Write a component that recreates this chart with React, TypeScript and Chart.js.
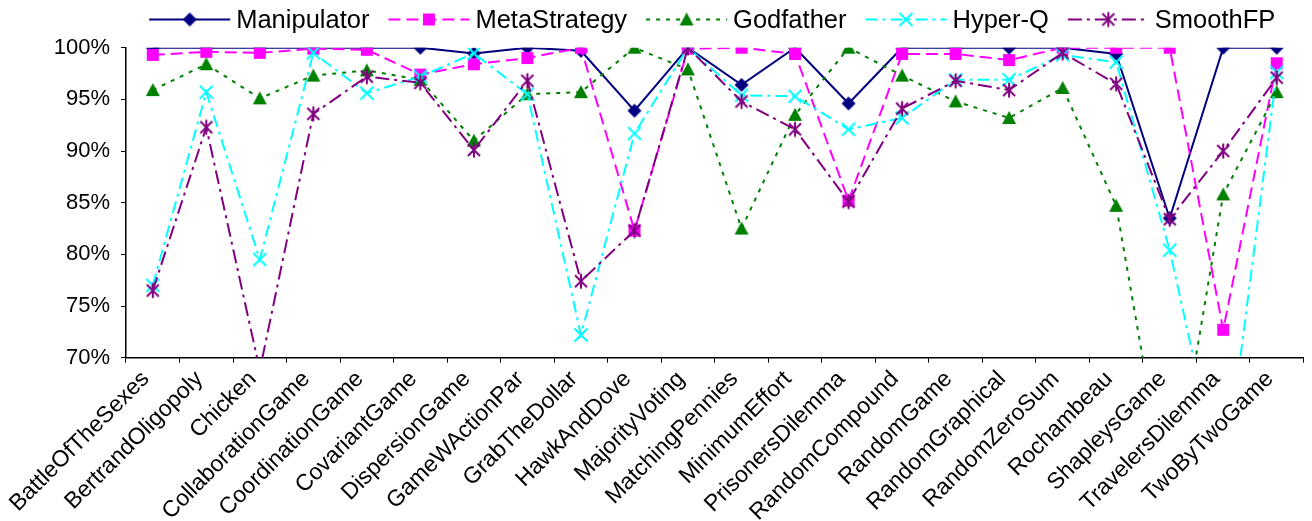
import { useEffect, useRef } from 'react';
import { Chart, registerables } from 'chart.js';

Chart.register(...registerables);

const categories = [
  'BattleOfTheSexes', 'BertrandOligopoly', 'Chicken', 'CollaborationGame', 'CoordinationGame',
  'CovariantGame', 'DispersionGame', 'GameWActionPar', 'GrabTheDollar', 'HawkAndDove',
  'MajorityVoting', 'MatchingPennies', 'MinimumEffort', 'PrisonersDilemma', 'RandomCompound',
  'RandomGame', 'RandomGraphical', 'RandomZeroSum', 'Rochambeau', 'ShapleysGame',
  'TravelersDilemma', 'TwoByTwoGame',
];

const manipulator = [100, 100, 100, 100, 100, 100, 99.45, 100, 99.7, 93.9, 100, 96.4, 100, 94.6, 100, 100, 100, 100, 99.4, 83.5, 100, 100];
const metaStrategy = [99.3, 99.6, 99.5, 99.9, 99.8, 97.4, 98.4, 99.0, 100, 82.3, 99.9, 100, 99.4, 85.2, 99.4, 99.4, 98.8, 100, 100, 100, 72.7, 98.5];
const godfather = [95.9, 98.4, 95.1, 97.3, 97.8, 96.9, 91.0, 95.5, 95.7, 100, 97.9, 82.5, 93.5, 100, 97.3, 94.8, 93.2, 96.1, 84.7, 55, 85.8, 95.7];
const hyperQ = [77.0, 95.7, 79.5, 99.5, 95.6, 97.2, 99.45, 95.5, 72.2, 91.7, 100, 95.4, 95.3, 92.1, 93.2, 96.9, 96.9, 99.3, 98.6, 80.4, 57, 97.6];
const smoothFP = [76.5, 92.3, 68.8, 93.6, 97.2, 96.6, 90.1, 96.8, 77.4, 82.3, 100, 94.8, 92.1, 85.1, 94.1, 96.8, 95.9, 99.5, 96.5, 83.4, 90.0, 97.1];

const seriesNames = ['Manipulator', 'MetaStrategy', 'Godfather', 'Hyper-Q', 'SmoothFP'];
const yMin = 70;
const yMax = 100;
const yStep = 5;

const FONT = '"Liberation Sans", Arial, Helvetica, sans-serif';

function makeMarker(kind: string, color: string): HTMLCanvasElement {
  const c = document.createElement('canvas');
  c.width = 18;
  c.height = 18;
  const g = c.getContext('2d')!;
  g.fillStyle = color;
  g.strokeStyle = color;
  g.lineWidth = 2;
  g.lineCap = 'butt';
  const m = 9;
  if (kind === 'diamond') {
    g.beginPath();
    g.moveTo(m, m - 7);
    g.lineTo(m + 7, m);
    g.lineTo(m, m + 7);
    g.lineTo(m - 7, m);
    g.closePath();
    g.fill();
  } else if (kind === 'square') {
    g.fillRect(m - 6, m - 6, 12, 12);
  } else if (kind === 'triangle') {
    g.beginPath();
    g.moveTo(m, m - 7);
    g.lineTo(m + 7, m + 6);
    g.lineTo(m - 7, m + 6);
    g.closePath();
    g.fill();
  } else if (kind === 'x') {
    g.beginPath();
    g.moveTo(m - 6.5, m - 6.5);
    g.lineTo(m + 6.5, m + 6.5);
    g.moveTo(m + 6.5, m - 6.5);
    g.lineTo(m - 6.5, m + 6.5);
    g.stroke();
  } else if (kind === 'star') {
    g.beginPath();
    g.moveTo(m - 6, m - 6);
    g.lineTo(m + 6, m + 6);
    g.moveTo(m + 6, m - 6);
    g.lineTo(m - 6, m + 6);
    g.moveTo(m, m - 7.5);
    g.lineTo(m, m + 7.5);
    g.stroke();
  }
  return c;
}

const legendPlugin = {
  id: 'excelLegend',
  afterDraw(chart: any) {
    const ctx: CanvasRenderingContext2D = chart.ctx;
    ctx.save();
    ctx.font = `25.5px ${FONT}`;
    const lineW = 81;
    const gapText = 6;
    const gapItem = 19;
    const dss = chart.data.datasets;
    const widths = dss.map((ds: any) => ctx.measureText(ds.label).width);
    let total = 0;
    widths.forEach((w: number) => (total += lineW + gapText + w));
    total += gapItem * (dss.length - 1);
    const ca = chart.chartArea;
    let x = (ca.left + ca.right) / 2 - 2.5 - total / 2;
    const y = 19.5;
    dss.forEach((ds: any, i: number) => {
      ctx.strokeStyle = ds.borderColor;
      ctx.lineWidth = ds.borderWidth;
      ctx.setLineDash(ds.borderDash || []);
      ctx.beginPath();
      ctx.moveTo(x, y);
      ctx.lineTo(x + lineW, y);
      ctx.stroke();
      ctx.setLineDash([]);
      const img = ds.pointStyle as HTMLCanvasElement;
      ctx.drawImage(img, x + lineW / 2 - img.width / 2, y - img.height / 2);
      ctx.fillStyle = '#000';
      ctx.textBaseline = 'alphabetic';
      ctx.textAlign = 'left';
      ctx.fillText(ds.label, x + lineW + gapText, 27.5);
      x += lineW + gapText + widths[i] + gapItem;
    });
    ctx.restore();
  },
};

export default function App() {
  const ref = useRef<HTMLCanvasElement>(null);

  useEffect(() => {
    const styles = [
      { data: manipulator, color: '#000080', dash: [] as number[], marker: 'diamond' },
      { data: metaStrategy, color: '#FF00FF', dash: [12, 6], marker: 'square' },
      { data: godfather, color: '#008000', dash: [4, 6], marker: 'triangle' },
      { data: hyperQ, color: '#00FFFF', dash: [12, 5, 3, 5], marker: 'x' },
      { data: smoothFP, color: '#800080', dash: [14, 5, 3, 5], marker: 'star' },
    ];
    const datasets = styles.map((s, i) => ({
      label: seriesNames[i],
      data: s.data,
      borderColor: s.color,
      backgroundColor: s.color,
      borderWidth: 2,
      borderDash: s.dash,
      pointStyle: makeMarker(s.marker, s.color),
      pointRadius: 6,
      pointHoverRadius: 6,
      pointBorderColor: s.color,
      pointBackgroundColor: s.color,
      tension: 0,
      fill: false,
      order: styles.length - 1 - i,
    }));

    const chart = new Chart(ref.current!, {
      type: 'line',
      data: { labels: categories, datasets },
      options: {
        animation: false,
        responsive: false,
        devicePixelRatio: 1,
        events: [],
        layout: { padding: { top: 47.7, right: 8.5, left: 0, bottom: 0 } },
        plugins: {
          legend: { display: false },
          tooltip: { enabled: false },
        },
        scales: {
          x: {
            type: 'category',
            offset: true,
            afterFit: (scale: any) => {
              scale.height = 163.3;
            },
            grid: {
              display: true,
              offset: true,
              drawOnChartArea: false,
              drawTicks: true,
              tickLength: 5,
              color: '#000',
              lineWidth: 1,
            },
            border: { display: true, color: '#000', width: 1.5 },
            ticks: {
              autoSkip: false,
              maxRotation: 45,
              minRotation: 45,
              padding: 3,
              labelOffset: -7,
              color: '#000',
              font: { family: FONT, size: 23 },
            },
          },
          y: {
            type: 'linear',
            min: yMin,
            max: yMax,
            afterFit: (scale: any) => {
              scale.width = 126;
            },
            grid: {
              display: true,
              drawOnChartArea: false,
              drawTicks: true,
              tickLength: 5,
              color: '#000',
              lineWidth: 1,
            },
            border: { display: true, color: '#000', width: 1.5 },
            ticks: {
              stepSize: yStep,
              padding: 11,
              color: '#000',
              font: { family: FONT, size: 22 },
              callback: (v: any) => `${v}%`,
            },
          },
        },
      },
      plugins: [legendPlugin],
    } as any);
    return () => chart.destroy();
  }, []);

  return (
    <div style={{ position: 'fixed', left: 0, top: 0, width: 1312, height: 521, background: '#fff' }}>
      <canvas ref={ref} width={1312} height={521} style={{ display: 'block', width: 1312, height: 521 }} />
    </div>
  );
}
